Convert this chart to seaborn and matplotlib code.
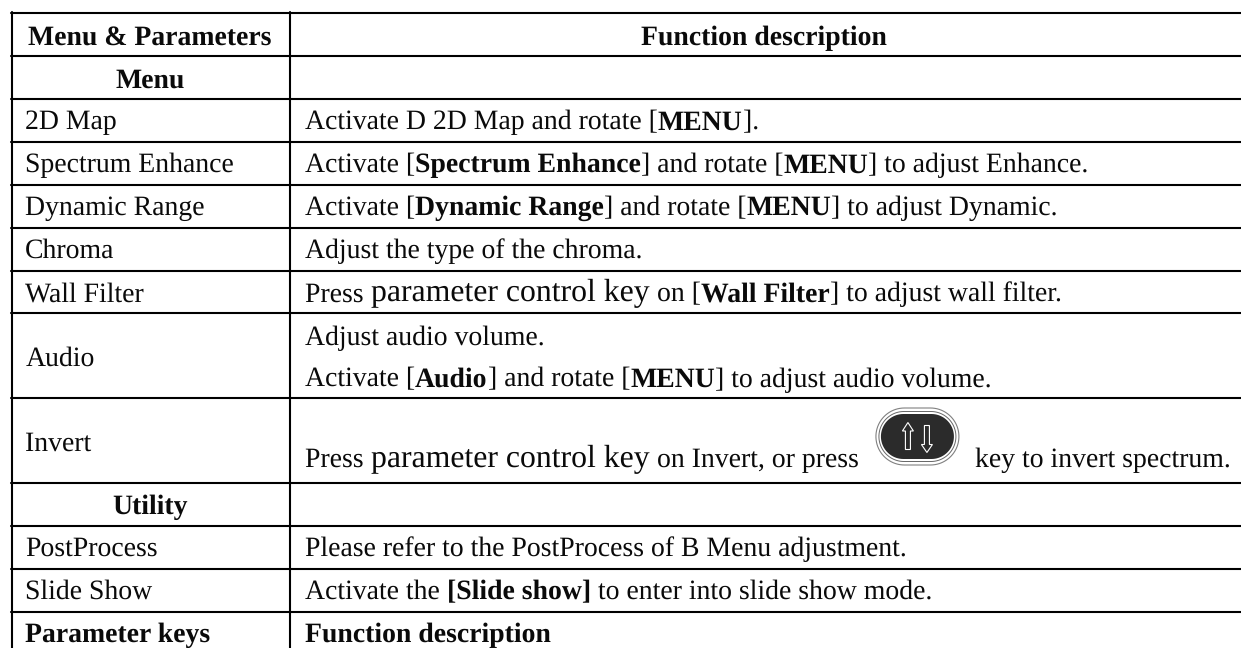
import numpy as np
import pandas as pd
import matplotlib
matplotlib.use('Agg')
import matplotlib.pyplot as plt
import seaborn as sns
from matplotlib.font_manager import FontProperties
from matplotlib.patches import Polygon

# Table text
menu_labels = ['2D Map', 'Spectrum Enhance', 'Dynamic Range', 'Chroma', 'Wall Filter', 'Audio', 'Invert']
utility_labels = ['PostProcess', 'Slide Show']
header_left = 'Menu & Parameters'
header_right = 'Function description'
footer_left = 'Parameter keys'

# Each description is a list of (text, style): n = normal, b = bold, k = larger, i = key icon
desc_map = [('Activate D 2D Map and rotate [', 'n'), ('MENU', 'b'), ('].', 'n')]
desc_spectrum = [('Activate [', 'n'), ('Spectrum Enhance', 'b'), ('] and rotate [', 'n'), ('MENU', 'b'), ('] to adjust Enhance.', 'n')]
desc_dynamic = [('Activate [', 'n'), ('Dynamic Range', 'b'), ('] and rotate [', 'n'), ('MENU', 'b'), ('] to adjust Dynamic.', 'n')]
desc_chroma = [('Adjust the type of the chroma.', 'n')]
desc_wall = [('Press ', 'n'), ('parameter control key ', 'k'), ('on [', 'n'), ('Wall Filter', 'b'), ('] to adjust wall filter.', 'n')]
desc_audio1 = [('Adjust audio volume.', 'n')]
desc_audio2 = [('Activate [', 'n'), ('Audio', 'b'), ('] and rotate [', 'n'), ('MENU', 'b'), ('] to adjust audio volume.', 'n')]
desc_invert = [('Press ', 'n'), ('parameter control key ', 'k'), ('on Invert, or press', 'n'), ('', 'i'), ('key to invert spectrum.', 'n')]
desc_post = [('Please refer to the PostProcess of B Menu adjustment.', 'n')]
desc_slide = [('Activate the ', 'n'), ('[Slide show]', 'b'), (' to enter into slide show mode.', 'n')]
desc_footer = [('Function description', 'b')]

# Layout in pixels
rule_y = [13, 56, 98.7, 141.5, 184.5, 227.5, 270.7, 313.4, 397.7, 482.7, 526, 569, 611.7]
rule_x = [11.5, 290]
left_x = 25.3
right_x = 305
normal_pt = 20
large_pt = 22.86

sns.set_theme(style='white')
plt.rcParams['font.family'] = ['Liberation Serif', 'DejaVu Serif']
plt.rcParams['text.hinting'] = 'none'

fig = plt.figure(figsize=(12.41, 6.48), dpi=100)
ax = fig.add_axes([0, 0, 1, 1])

# Table rules
rows = []
for n, y in enumerate(rule_y):
    rows += [{'x': 10.5, 'y': y, 'rule': n}, {'x': 1241, 'y': y, 'rule': n}]
for n, x in enumerate(rule_x):
    rows += [{'x': x, 'y': 12, 'rule': 100 + n}, {'x': x, 'y': 648, 'rule': 100 + n}]
rules = pd.DataFrame(rows)
sns.lineplot(data=rules, x='x', y='y', units='rule', estimator=None, sort=False,
             color='black', linewidth=1.5, legend=False, ax=ax)
ax.set_xlim(0, 1241)
ax.set_ylim(648, 0)
ax.axis('off')

renderer = fig.canvas.get_renderer()
text_color = '#0a0a0a'
key_color = '#2b2b2b'


def style_of(style):
    if style == 'b':
        return dict(size=normal_pt, weight='bold')
    if style == 'k':
        return dict(size=large_pt, weight='normal')
    return dict(size=normal_pt, weight='normal')


def advance(text, style):
    # the bar keeps trailing spaces in the measured width
    prop = FontProperties(family='Liberation Serif', **style_of(style))
    w1 = renderer.get_text_width_height_descent(text + '|', prop, False)[0]
    w2 = renderer.get_text_width_height_descent('|', prop, False)[0]
    return w1 - w2


def pill(cx, cy, half_w, half_h, **kw):
    # stadium outline with half round ends
    t = np.linspace(-np.pi / 2, np.pi / 2, 40)
    right = np.c_[cx + half_w - half_h + half_h * np.cos(t), cy + half_h * np.sin(t)]
    left = np.c_[cx - half_w + half_h - half_h * np.cos(t), cy - half_h * np.sin(t)]
    ax.add_patch(Polygon(np.r_[right, left], closed=True, **kw))


def draw_key(cx, cy):
    pill(cx, cy, 41.5, 28.5, fc='white', ec='#808080', lw=0.8, zorder=3)
    pill(cx, cy, 38.5, 25, fc='white', ec='#666666', lw=0.7, zorder=3)
    pill(cx, cy, 36.5, 22.5, fc=key_color, ec='none', zorder=4)
    up_x, dn_x = cx - 9.5, cx + 9.5
    up = [(up_x, cy - 14), (up_x + 5.5, cy - 5.5), (up_x + 2.5, cy - 5.5), (up_x + 2.5, cy + 13),
          (up_x - 2.5, cy + 13), (up_x - 2.5, cy - 5.5), (up_x - 5.5, cy - 5.5)]
    dn = [(dn_x, cy + 16), (dn_x + 5.5, cy + 8), (dn_x + 2.5, cy + 8), (dn_x + 2.5, cy - 11),
          (dn_x - 2.5, cy - 11), (dn_x - 2.5, cy + 8), (dn_x - 5.5, cy + 8)]
    for pts in [up, dn]:
        ax.add_patch(Polygon(pts, closed=True, fc=key_color, ec='white', lw=0.8, zorder=5))


def draw_runs(runs, x, y):
    for text, style in runs:
        if style == 'i':
            draw_key(x + 58.5, y - 30.5)
            x += 116
            continue
        ax.text(x, y, text, va='baseline', ha='left', color=text_color, **style_of(style))
        x += advance(text, style)


# Headers and section rows
ax.text(150, 44.7, header_left, ha='center', va='baseline', color=text_color, **style_of('b'))
ax.text(764, 44.7, header_right, ha='center', va='baseline', color=text_color, **style_of('b'))
ax.text(150, 87.3, 'Menu', ha='center', va='baseline', color=text_color, **style_of('b'))
ax.text(150, 513.5, 'Utility', ha='center', va='baseline', color=text_color, **style_of('b'))

# Left column
left_base = [129.3, 172.3, 215, 258, 301.5, 366, 451]
for label, y in zip(menu_labels, left_base):
    ax.text(left_x, y, label, va='baseline', color=text_color, **style_of('n'))
for label, y in zip(utility_labels, [556, 599]):
    ax.text(left_x, y, label, va='baseline', color=text_color, **style_of('n'))
ax.text(left_x, 642, footer_left, va='baseline', color=text_color, **style_of('b'))

# Right column
right_rows = [(desc_map, 129.3), (desc_spectrum, 172.3), (desc_dynamic, 215), (desc_chroma, 258),
              (desc_wall, 301.5), (desc_audio1, 345), (desc_audio2, 386.7), (desc_invert, 467),
              (desc_post, 556), (desc_slide, 599), (desc_footer, 642)]
for runs, y in right_rows:
    draw_runs(runs, right_x, y)

fig.savefig('out.png', dpi=100)
